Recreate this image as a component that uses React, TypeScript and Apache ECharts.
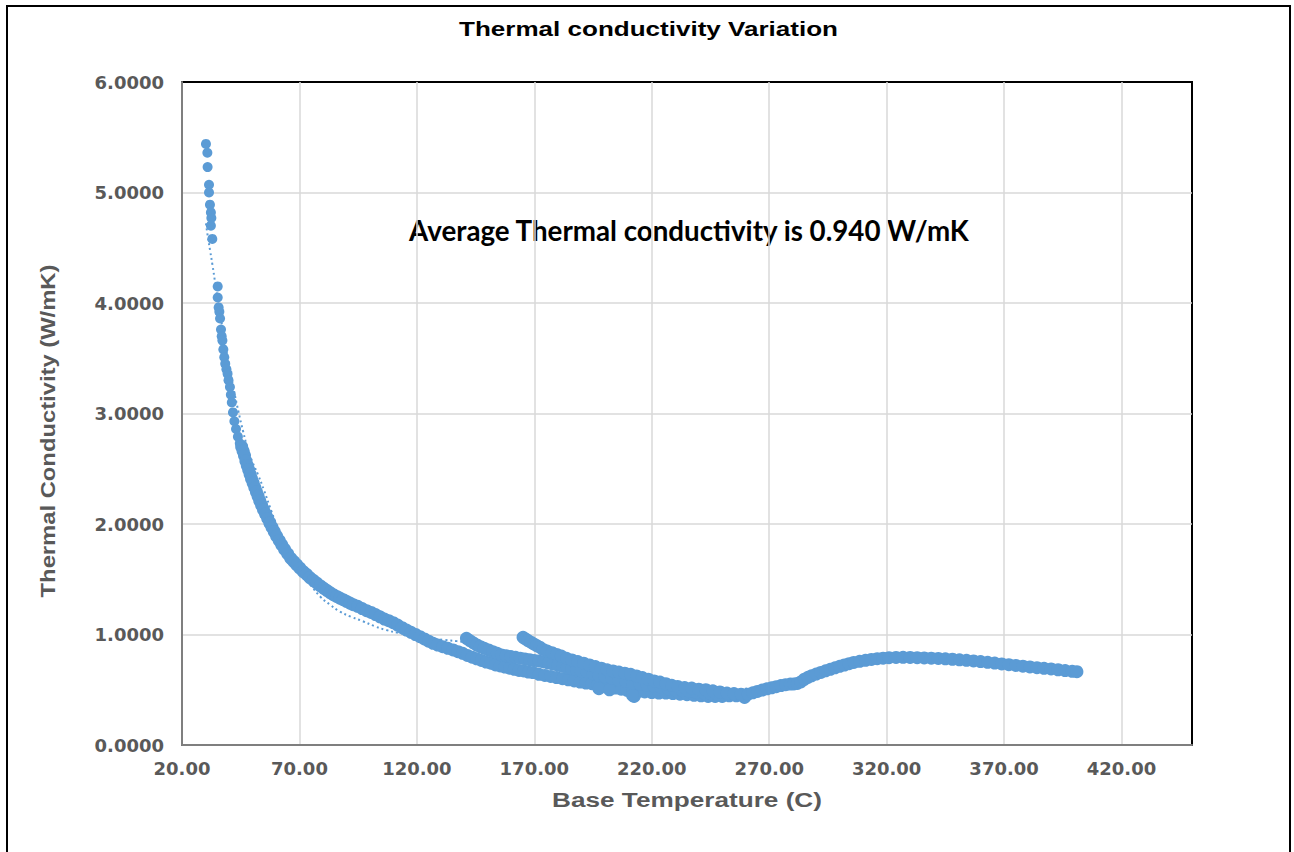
import React, { useEffect, useRef } from "react";
import * as echarts from "echarts";

const titleText = "Thermal conductivity Variation";
const xAxisTitle = "Base Temperature (C)";
const yAxisTitle = "Thermal Conductivity (W/mK)";
const noteText = "Average Thermal conductivity is 0.940 W/mK";

const xMin = 20;
const xMax = 450;
const xStep = 50;
const yMin = 0;
const yMax = 6;
const yStep = 1;

// isolated points at the steep start (°C, W/mK)
const steepPoints: [number, number][] = [
  [30.2, 5.44], [30.8, 5.36], [30.9, 5.23], [31.5, 5.07], [31.5, 5.0], [31.9, 4.89],
  [32.3, 4.82], [32.5, 4.77], [32.3, 4.7], [32.9, 4.58],
  [35.2, 4.15], [35.2, 4.05], [35.6, 3.96], [35.9, 3.92], [36.2, 3.86], [36.6, 3.76],
  [36.9, 3.7], [37.2, 3.66], [37.6, 3.58], [38.0, 3.51], [38.4, 3.45], [38.9, 3.4],
  [39.4, 3.36], [39.8, 3.3], [40.4, 3.24], [40.8, 3.17], [41.2, 3.1], [41.7, 3.01],
  [42.3, 2.93], [43.0, 2.86], [43.8, 2.79], [44.6, 2.73],
];

// dense band, 45 °C to 135 °C
const bandPoints: [number, number][] = [
  [45.4, 2.7], [46.0, 2.66], [46.6, 2.62], [47.2, 2.57], [47.8, 2.53], [48.4, 2.49],
  [49.0, 2.45], [49.6, 2.41], [50.3, 2.37], [51.0, 2.33], [51.7, 2.29], [52.4, 2.25],
  [53.1, 2.21], [53.9, 2.17], [54.7, 2.13], [55.6, 2.09], [56.5, 2.05], [57.4, 2.01],
  [58.3, 1.97], [59.3, 1.93], [60.3, 1.89], [61.4, 1.85], [62.5, 1.81], [63.7, 1.77],
  [65.0, 1.73], [66.3, 1.69], [67.6, 1.66], [68.9, 1.63], [70.2, 1.6], [71.6, 1.57],
  [73.0, 1.545], [74.4, 1.515], [75.9, 1.49], [77.4, 1.465], [78.9, 1.44], [80.2, 1.42],
  [81.6, 1.4], [83.0, 1.38], [84.4, 1.36], [85.8, 1.345], [87.2, 1.33], [88.6, 1.315],
  [90.0, 1.3], [91.5, 1.285], [92.9, 1.27], [94.8, 1.255], [96.7, 1.235], [98.6, 1.215],
  [100.5, 1.2], [102.4, 1.18], [104.3, 1.16], [106.2, 1.14], [108.0, 1.125], [109.9, 1.107],
  [111.8, 1.085], [113.7, 1.062], [115.6, 1.04], [117.5, 1.02], [119.4, 1.0], [121.3, 0.98],
  [123.2, 0.96], [125.0, 0.94], [126.9, 0.92], [128.9, 0.905], [131.0, 0.89], [133.2, 0.875],
  [135.4, 0.86],
];

// lower edge of the band, 137 °C to 260 °C
const lowerPoints: [number, number][] = [
  [137.5, 0.845], [139.5, 0.83], [141.5, 0.81], [143.5, 0.795], [145.5, 0.78], [147.5, 0.765],
  [149.5, 0.75], [151.5, 0.74], [153.5, 0.725], [155.5, 0.715], [157.5, 0.705], [159.5, 0.695],
  [161.5, 0.685], [163.5, 0.675], [165.5, 0.67], [167.5, 0.66], [169.5, 0.655], [172, 0.64],
  [174.5, 0.63], [177, 0.62], [179.5, 0.61], [182, 0.6], [184.5, 0.59], [187, 0.58],
  [189.5, 0.57], [192, 0.56], [194.5, 0.555], [197, 0.545], [199.5, 0.535], [202, 0.525],
  [204.5, 0.515], [207, 0.505], [209.5, 0.495], [212, 0.49], [214.5, 0.485], [217, 0.48],
  [220, 0.475], [223, 0.47], [226, 0.47], [229, 0.465], [232, 0.46], [235, 0.455],
  [238, 0.45], [241, 0.445], [244, 0.44], [247, 0.44], [250, 0.44], [253, 0.445],
  [256, 0.445], [259, 0.45], [212.5, 0.44], [211.8, 0.45], [259.5, 0.43], [197.5, 0.51],
  [202, 0.5],
];

// first branch (starts near 141 °C) running along the middle of the band
const branchOnePoints: [number, number][] = [
  [141.1, 0.966], [142.5, 0.945], [144, 0.925], [145.5, 0.905], [147, 0.89], [148.7, 0.875],
  [150.5, 0.86], [152.3, 0.845], [154.2, 0.83], [156, 0.815], [158, 0.808], [160, 0.8],
  [162, 0.793], [164, 0.786], [166, 0.779], [168, 0.772], [170, 0.765], [172, 0.76],
  [174, 0.752], [176, 0.742], [178, 0.732], [180, 0.722], [182, 0.712], [184, 0.7],
  [186, 0.69], [188, 0.68], [190, 0.67], [192.5, 0.66], [195, 0.645], [197.5, 0.63],
  [200, 0.62], [203, 0.605], [206, 0.59], [209, 0.575], [212, 0.56], [215, 0.55],
  [218, 0.54], [221, 0.53], [224, 0.52], [227, 0.51], [230, 0.5], [233, 0.493],
  [236, 0.485], [239, 0.478], [242, 0.472], [245, 0.466], [248, 0.46],
];

// second branch (starts near 165 °C), upper edge of the band
const branchTwoPoints: [number, number][] = [
  [165.2, 0.975], [166.2, 0.96], [167.3, 0.945], [168.5, 0.93], [169.7, 0.915], [171, 0.9],
  [172.3, 0.885], [173.7, 0.865], [175.5, 0.85], [177.5, 0.835], [179.5, 0.82], [181.5, 0.805],
  [183.7, 0.785], [186, 0.77], [188.5, 0.755], [191, 0.74], [193.5, 0.725], [196, 0.71],
  [198.5, 0.695], [201, 0.68], [203.5, 0.67], [206, 0.66], [208.5, 0.65], [211, 0.64],
  [213.5, 0.625], [216, 0.61], [218.5, 0.595], [221, 0.58], [223.5, 0.57], [226, 0.555],
  [228.5, 0.54], [231, 0.53], [234, 0.52], [237, 0.515], [240, 0.505], [243, 0.5],
  [246, 0.49], [249, 0.48], [252, 0.47], [255, 0.465], [258, 0.46],
];

// rise and plateau, 259 °C to 401 °C
const risePoints: [number, number][] = [
  [261, 0.46], [263, 0.472], [265, 0.485], [267, 0.497], [269, 0.508], [271, 0.518],
  [273, 0.528], [275, 0.538], [277, 0.546], [279, 0.551], [280.5, 0.553], [282, 0.557],
  [283.5, 0.572], [285, 0.595], [286.5, 0.612], [288, 0.626], [290, 0.642], [292, 0.657],
  [294, 0.671], [296, 0.685], [298, 0.698], [300, 0.712], [302, 0.724], [304, 0.736],
  [306, 0.747], [308.5, 0.757], [311, 0.766], [313.5, 0.774], [316, 0.781], [318.5, 0.786],
  [321, 0.79], [324, 0.792], [327, 0.793], [330, 0.792], [333, 0.79], [336, 0.788],
  [339, 0.786], [342, 0.783], [345, 0.78], [348, 0.776], [351, 0.771], [354, 0.766],
  [357, 0.761], [360, 0.755], [363, 0.748], [366, 0.741], [369, 0.734], [372, 0.727],
  [375, 0.72], [378, 0.713], [381, 0.707], [384, 0.7], [387, 0.694], [390, 0.688],
  [393, 0.681], [396, 0.674], [399, 0.667], [401, 0.663],
];

// dotted trend line
const trendPoints: [number, number][] = [
  [30.2, 4.72], [31, 4.6], [32, 4.47], [33, 4.34], [34, 4.2], [35, 4.06], [36, 3.93],
  [38, 3.68], [40, 3.44], [42, 3.22], [44, 3.02], [46, 2.84], [48, 2.68], [50, 2.56],
  [52.5, 2.44], [55, 2.3], [58, 2.12], [61, 1.95], [64, 1.81], [67, 1.69], [71, 1.55],
  [75, 1.44], [79, 1.34], [83, 1.27], [87, 1.21], [92, 1.16], [97, 1.12], [102, 1.075],
  [107, 1.04], [112, 1.015], [117, 0.995], [122, 0.975], [127, 0.96], [132, 0.95],
  [137, 0.94], [142, 0.925], [150, 0.89], [160, 0.83], [170, 0.77], [185, 0.69],
  [200, 0.62], [215, 0.56], [230, 0.52], [245, 0.5], [260, 0.51], [275, 0.56],
  [290, 0.64], [305, 0.72], [320, 0.77], [335, 0.79], [350, 0.78], [365, 0.75],
  [380, 0.71], [395, 0.68], [401, 0.665],
];

const blue = "#5B9BD5";
const grey = "#595959";

function measure(text: string, font: string): number {
  const ctx = document.createElement("canvas").getContext("2d");
  if (!ctx) return 1;
  ctx.font = font;
  return ctx.measureText(text).width || 1;
}

function fittedText(
  text: string,
  family: string,
  size: number,
  targetWidth: number,
  x: number,
  y: number,
  fill: string,
  rotation = 0
) {
  const w = measure(text, `bold ${size}px ${family}`);
  return {
    type: "text",
    x,
    y,
    rotation,
    scaleX: targetWidth / w,
    silent: true,
    style: {
      text,
      fontFamily: family,
      fontSize: size,
      fontWeight: "bold",
      fill,
      align: "center",
      verticalAlign: "middle",
    },
  };
}

export default function App() {
  const ref = useRef<HTMLDivElement>(null);

  useEffect(() => {
    if (!ref.current) return;
    const chart = echarts.init(ref.current, undefined, { renderer: "svg" });
    const scatterBase = {
      type: "scatter",
      xAxisIndex: 0,
      yAxisIndex: 0,
      symbol: "circle",
      itemStyle: { color: blue, opacity: 1 },
      silent: true,
    };
    chart.setOption({
      animation: false,
      backgroundColor: "#ffffff",
      grid: {
        left: 182,
        right: 102,
        top: 82,
        bottom: 107,
        show: true,
        borderColor: "#000000",
        borderWidth: 2,
        backgroundColor: "transparent",
      },
      xAxis: [
        {
          type: "value",
          min: xMin,
          max: xMax,
          show: false,
        },
        {
          type: "value",
          position: "bottom",
          min: 0,
          max: xMax - xMin,
          interval: xStep,
          axisLine: { show: true, onZero: false, lineStyle: { color: "#7F7F7F", width: 2 } },
          axisTick: { show: false },
          splitLine: {
            show: true,
            showMinLine: false,
            showMaxLine: false,
            lineStyle: { color: "#D9D9D9", width: 1.5 },
          },
          axisLabel: {
            color: grey,
            fontFamily: "DejaVu Sans",
            fontWeight: "bold",
            fontSize: 18,
            margin: 14,
            showMaxLabel: false,
            formatter: (v: number) => (v % xStep === 0 ? (v + xMin).toFixed(2) : ""),
          },
        },
      ],
      yAxis: {
        type: "value",
        min: yMin,
        max: yMax,
        interval: yStep,
        axisLine: { show: true, lineStyle: { color: "#7F7F7F", width: 2 } },
        axisTick: { show: false },
        splitLine: {
          show: true,
          showMinLine: false,
          showMaxLine: false,
          lineStyle: { color: "#D9D9D9", width: 1.5 },
        },
        axisLabel: {
          color: grey,
          fontFamily: "DejaVu Sans",
          fontWeight: "bold",
          fontSize: 18,
          margin: 18,
          formatter: (v: number) => v.toFixed(4),
        },
      },
      graphic: [
        {
          type: "rect",
          silent: true,
          shape: { x: 7, y: 6, width: 1283, height: 870 },
          style: { fill: "none", stroke: "#000000", lineWidth: 2 },
        },
        fittedText(titleText, '"Liberation Sans"', 21, 379, 648.5, 29, "#000000"),
        fittedText(noteText, "Lato", 28, 562, 689, 230, "#000000"),
        fittedText(xAxisTitle, '"Liberation Sans"', 21, 270, 687, 800, grey),
        fittedText(yAxisTitle, '"Liberation Sans"', 21, 333, 48, 431, grey, Math.PI / 2),
      ],
      series: [
        {
          type: "line",
          xAxisIndex: 0,
          yAxisIndex: 0,
          data: trendPoints,
          smooth: true,
          symbol: "none",
          silent: true,
          lineStyle: { color: blue, width: 2, type: [2, 3] },
          z: 1,
        },
        { ...scatterBase, data: steepPoints, symbolSize: 10, z: 3 },
        { ...scatterBase, data: bandPoints, symbolSize: 13, z: 3 },
        { ...scatterBase, data: lowerPoints, symbolSize: 13, z: 3 },
        { ...scatterBase, data: branchOnePoints, symbolSize: 13, z: 3 },
        { ...scatterBase, data: branchTwoPoints, symbolSize: 13, z: 3 },
        { ...scatterBase, data: risePoints, symbolSize: 13, z: 3 },
      ],
    });
    return () => chart.dispose();
  }, []);

  return (
    <div
      ref={ref}
      style={{ position: "absolute", left: 0, top: 0, width: 1294, height: 852 }}
    />
  );
}
